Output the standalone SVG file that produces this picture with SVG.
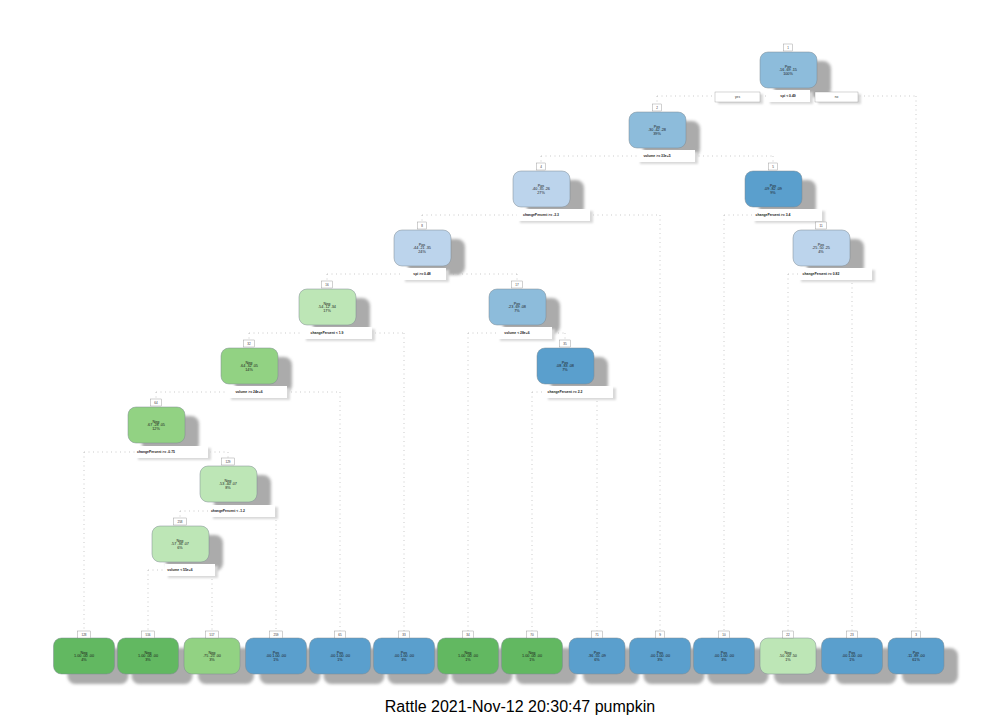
<svg xmlns="http://www.w3.org/2000/svg" width="1000" height="718" viewBox="0 0 1000 718">
<defs>
<filter id="sh" x="-30%" y="-30%" width="160%" height="160%"><feGaussianBlur stdDeviation="1.8"/></filter>
<filter id="sh2" x="-30%" y="-50%" width="160%" height="200%"><feGaussianBlur stdDeviation="1.2"/></filter>
<style>
.bg{fill:#ffffff}
.con{fill:none;stroke:#b4b4b4;stroke-width:0.7;stroke-dasharray:1 3.5}
.shd{fill:#ababab;filter:url(#sh)}
.lshd{fill:#d8d8d8;filter:url(#sh2)}
.box{stroke:#7f8a93;stroke-width:0.5}
.lab{fill:#ffffff}
.nb{fill:#ffffff;stroke:#8c8c8c;stroke-width:0.4}
.nt{font-family:"Liberation Sans",Arial,sans-serif;font-size:3.8px;text-anchor:middle;fill:#1a1a1a}
.ct{font-family:"Liberation Sans",Arial,sans-serif;font-size:3.4px;font-weight:bold;text-anchor:middle;fill:#1a1a1a}
.num{font-family:"Liberation Sans",Arial,sans-serif;font-size:3px;text-anchor:middle;fill:#333}
.yn{font-family:"Liberation Sans",Arial,sans-serif;font-size:3.2px;text-anchor:middle;fill:#333}
.title{font-family:"Liberation Sans",Arial,sans-serif;font-size:16px;text-anchor:middle;fill:#000}
.b1{fill:#8dbcdb}.b2{fill:#bcd4ec}.b3{fill:#5a9fcd}
.g1{fill:#bde6b6}.g2{fill:#92d283}.g3{fill:#62b861}
</style>
</defs>
<rect class="bg" x="0" y="0" width="1000" height="718"/>

<g id="connectors">
<path class="con" d="M657,96H916M657,96V105M916,96V631"/>
<path class="con" d="M541,156H773M541,156V164M773,156V164"/>
<path class="con" d="M422,215H660M422,215V223M660,215V631"/>
<path class="con" d="M724,215H821M724,215V631M821,215V223"/>
<path class="con" d="M327,274H517M327,274V282M517,274V282"/>
<path class="con" d="M788,274H852M788,274V631M852,274V631"/>
<path class="con" d="M249,333H404M249,333V341M404,333V631"/>
<path class="con" d="M468,333H565M468,333V631M565,333V341"/>
<path class="con" d="M156,392H340M156,392V400M340,392V631"/>
<path class="con" d="M532,392H597M532,392V631M597,392V631"/>
<path class="con" d="M84,452H228M84,452V631M228,452V459"/>
<path class="con" d="M180,511H276M180,511V519M276,511V631"/>
<path class="con" d="M148,570H212M148,570V631M212,570V631"/>
</g>

<!-- internal nodes -->
<g id="node1">
<rect class="shd" x="774" y="61" width="57" height="36" rx="8"/>
<rect class="box b1" x="760" y="52" width="57" height="36" rx="8"/>
<text class="nt" x="788" y="67.5">Pos</text><text class="nt" x="788" y="71.3">.16 .69 .15</text><text class="nt" x="788" y="75.1">100%</text>
<rect class="nb" x="783.5" y="44" width="9" height="7"/><text class="num" x="788" y="49">1</text>
<rect class="lshd" x="770" y="92" width="43" height="12"/>
<rect class="lab" x="767" y="90" width="43" height="12"/><text class="ct" x="788" y="97.2">spi &lt; 0.49</text>
<rect class="lshd" x="718" y="94" width="45" height="10"/>
<rect class="lab" x="715" y="92" width="45" height="10" stroke="#9a9a9a" stroke-width="0.4"/><text class="yn" x="737.5" y="98.2">yes</text>
<rect class="lshd" x="818" y="94" width="43" height="10"/>
<rect class="lab" x="815" y="92" width="43" height="10" stroke="#9a9a9a" stroke-width="0.4"/><text class="yn" x="836.5" y="98.2">no</text>
</g>

<g id="node2">
<rect class="shd" x="643" y="121" width="57" height="36" rx="8"/>
<rect class="box b1" x="629" y="112" width="57" height="36" rx="8"/>
<text class="nt" x="657" y="127.5">Pos</text><text class="nt" x="657" y="131.3">.30 .42 .28</text><text class="nt" x="657" y="135.1">39%</text>
<rect class="nb" x="652.5" y="104" width="9" height="7"/><text class="num" x="657" y="109">2</text>
<rect class="lshd" x="640" y="152" width="58" height="12"/>
<rect class="lab" x="637" y="150" width="58" height="12"/><text class="ct" x="657" y="157.2">volume &gt;= 33e+5</text>
</g>

<g id="node4">
<rect class="shd" x="527" y="180" width="57" height="36" rx="8"/>
<rect class="box b2" x="513" y="171" width="57" height="36" rx="8"/>
<text class="nt" x="541" y="186.5">Pos</text><text class="nt" x="541" y="190.3">.40 .35 .26</text><text class="nt" x="541" y="194.1">27%</text>
<rect class="nb" x="536.5" y="163" width="9" height="7"/><text class="num" x="541" y="168">4</text>
<rect class="lshd" x="520" y="211" width="73" height="12"/>
<rect class="lab" x="517" y="209" width="73" height="12"/><text class="ct" x="541" y="216.2">changePercent &gt;= -3.3</text>
</g>

<g id="node5">
<rect class="shd" x="759" y="180" width="57" height="36" rx="8"/>
<rect class="box b3" x="745" y="171" width="57" height="36" rx="8"/>
<text class="nt" x="773" y="186.5">Pos</text><text class="nt" x="773" y="190.3">.09 .82 .09</text><text class="nt" x="773" y="194.1">9%</text>
<rect class="nb" x="768.5" y="163" width="9" height="7"/><text class="num" x="773" y="168">5</text>
<rect class="lshd" x="755" y="211" width="70" height="12"/>
<rect class="lab" x="752" y="209" width="70" height="12"/><text class="ct" x="773" y="216.2">changePercent &gt;= 3.4</text>
</g>

<g id="node8">
<rect class="shd" x="408" y="239" width="57" height="36" rx="8"/>
<rect class="box b2" x="394" y="230" width="57" height="36" rx="8"/>
<text class="nt" x="422" y="245.5">Pos</text><text class="nt" x="422" y="249.3">.44 .21 .35</text><text class="nt" x="422" y="253.1">24%</text>
<rect class="nb" x="417.5" y="222" width="9" height="7"/><text class="num" x="422" y="227">8</text>
<rect class="lshd" x="405" y="270" width="44" height="12"/>
<rect class="lab" x="402" y="268" width="44" height="12"/><text class="ct" x="422" y="275.2">spi &gt;= 0.48</text>
</g>

<g id="node11">
<rect class="shd" x="807" y="239" width="57" height="36" rx="8"/>
<rect class="box b2" x="793" y="230" width="57" height="36" rx="8"/>
<text class="nt" x="821" y="245.5">Pos</text><text class="nt" x="821" y="249.3">.25 .50 .25</text><text class="nt" x="821" y="253.1">4%</text>
<rect class="nb" x="815.5" y="222" width="11" height="7"/><text class="num" x="821" y="227">11</text>
<rect class="lshd" x="801" y="270" width="74" height="12"/>
<rect class="lab" x="798" y="268" width="74" height="12"/><text class="ct" x="821" y="275.2">changePercent &gt;= 0.82</text>
</g>

<g id="node16">
<rect class="shd" x="313" y="298" width="57" height="36" rx="8"/>
<rect class="box g1" x="299" y="289" width="57" height="36" rx="8"/>
<text class="nt" x="327" y="304.5">Neg</text><text class="nt" x="327" y="308.3">.54 .12 .34</text><text class="nt" x="327" y="312.1">17%</text>
<rect class="nb" x="321.5" y="281" width="11" height="7"/><text class="num" x="327" y="286">16</text>
<rect class="lshd" x="306" y="329" width="69" height="12"/>
<rect class="lab" x="303" y="327" width="69" height="12"/><text class="ct" x="327" y="334.2">changePercent &lt; 1.9</text>
</g>

<g id="node17">
<rect class="shd" x="503" y="298" width="57" height="36" rx="8"/>
<rect class="box b1" x="489" y="289" width="57" height="36" rx="8"/>
<text class="nt" x="517" y="304.5">Pos</text><text class="nt" x="517" y="308.3">.23 .69 .08</text><text class="nt" x="517" y="312.1">7%</text>
<rect class="nb" x="511.5" y="281" width="11" height="7"/><text class="num" x="517" y="286">17</text>
<rect class="lshd" x="500" y="329" width="55" height="12"/>
<rect class="lab" x="497" y="327" width="55" height="12"/><text class="ct" x="517" y="334.2">volume &lt; 28e+6</text>
</g>

<g id="node32">
<rect class="shd" x="235" y="357" width="57" height="36" rx="8"/>
<rect class="box g2" x="221" y="348" width="57" height="36" rx="8"/>
<text class="nt" x="249" y="363.5">Neg</text><text class="nt" x="249" y="367.3">.64 .32 .05</text><text class="nt" x="249" y="371.1">14%</text>
<rect class="nb" x="243.5" y="340" width="11" height="7"/><text class="num" x="249" y="345">32</text>
<rect class="lshd" x="231" y="388" width="59" height="12"/>
<rect class="lab" x="228" y="386" width="59" height="12"/><text class="ct" x="249" y="393.2">volume &gt;= 24e+6</text>
</g>

<g id="node35">
<rect class="shd" x="551" y="357" width="57" height="36" rx="8"/>
<rect class="box b3" x="537" y="348" width="57" height="36" rx="8"/>
<text class="nt" x="565" y="363.5">Pos</text><text class="nt" x="565" y="367.3">.08 .83 .08</text><text class="nt" x="565" y="371.1">7%</text>
<rect class="nb" x="559.5" y="340" width="11" height="7"/><text class="num" x="565" y="345">35</text>
<rect class="lshd" x="548" y="388" width="68" height="12"/>
<rect class="lab" x="545" y="386" width="68" height="12"/><text class="ct" x="565" y="393.2">changePercent &gt;= 2.2</text>
</g>

<g id="node64">
<rect class="shd" x="142" y="416" width="57" height="36" rx="8"/>
<rect class="box g2" x="128" y="407" width="57" height="36" rx="8"/>
<text class="nt" x="156" y="422.5">Neg</text><text class="nt" x="156" y="426.3">.67 .28 .05</text><text class="nt" x="156" y="430.1">12%</text>
<rect class="nb" x="150.5" y="399" width="11" height="7"/><text class="num" x="156" y="404">64</text>
<rect class="lshd" x="138" y="448" width="73" height="12"/>
<rect class="lab" x="135" y="446" width="73" height="12"/><text class="ct" x="156" y="453.2">changePercent &gt;= -0.75</text>
</g>

<g id="node129">
<rect class="shd" x="214" y="475" width="57" height="36" rx="8"/>
<rect class="box g1" x="200" y="466" width="57" height="36" rx="8"/>
<text class="nt" x="228" y="481.5">Neg</text><text class="nt" x="228" y="485.3">.53 .40 .07</text><text class="nt" x="228" y="489.1">8%</text>
<rect class="nb" x="221.5" y="458" width="13" height="7"/><text class="num" x="228" y="463">129</text>
<rect class="lshd" x="213" y="507" width="65" height="12"/>
<rect class="lab" x="210" y="505" width="65" height="12"/><text class="ct" x="228" y="512.2">changePercent &lt; -1.2</text>
</g>

<g id="node258">
<rect class="shd" x="166" y="535" width="57" height="36" rx="8"/>
<rect class="box g1" x="152" y="526" width="57" height="36" rx="8"/>
<text class="nt" x="180" y="541.5">Neg</text><text class="nt" x="180" y="545.3">.57 .36 .07</text><text class="nt" x="180" y="549.1">6%</text>
<rect class="nb" x="173.5" y="518" width="13" height="7"/><text class="num" x="180" y="523">258</text>
<rect class="lshd" x="168" y="566" width="50" height="12"/>
<rect class="lab" x="165" y="564" width="50" height="12"/><text class="ct" x="180" y="571.2">volume &lt; 55e+6</text>
</g>

<!-- leaves -->
<g id="leaf128">
<rect class="shd" x="67.5" y="648" width="61" height="36" rx="8"/>
<rect class="box g3" x="53.5" y="638" width="61" height="36" rx="8"/>
<text class="nt" x="84" y="653.5">Neg</text><text class="nt" x="84" y="657.3">1.00 .00 .00</text><text class="nt" x="84" y="661.1">4%</text>
<rect class="nb" x="77.5" y="631" width="13" height="7"/><text class="num" x="84" y="636">128</text>
</g>
<g id="leaf516">
<rect class="shd" x="131.5" y="648" width="61" height="36" rx="8"/>
<rect class="box g3" x="117.5" y="638" width="61" height="36" rx="8"/>
<text class="nt" x="148" y="653.5">Neg</text><text class="nt" x="148" y="657.3">1.00 .00 .00</text><text class="nt" x="148" y="661.1">3%</text>
<rect class="nb" x="141.5" y="631" width="13" height="7"/><text class="num" x="148" y="636">516</text>
</g>
<g id="leaf517">
<rect class="shd" x="198" y="648" width="56" height="36" rx="8"/>
<rect class="box g2" x="184" y="638" width="56" height="36" rx="8"/>
<text class="nt" x="212" y="653.5">Neg</text><text class="nt" x="212" y="657.3">.75 .25 .00</text><text class="nt" x="212" y="661.1">3%</text>
<rect class="nb" x="205.5" y="631" width="13" height="7"/><text class="num" x="212" y="636">517</text>
</g>
<g id="leaf259">
<rect class="shd" x="259.5" y="648" width="61" height="36" rx="8"/>
<rect class="box b3" x="245.5" y="638" width="61" height="36" rx="8"/>
<text class="nt" x="276" y="653.5">Pos</text><text class="nt" x="276" y="657.3">.00 1.00 .00</text><text class="nt" x="276" y="661.1">1%</text>
<rect class="nb" x="269.5" y="631" width="13" height="7"/><text class="num" x="276" y="636">259</text>
</g>
<g id="leaf65">
<rect class="shd" x="323.5" y="648" width="61" height="36" rx="8"/>
<rect class="box b3" x="309.5" y="638" width="61" height="36" rx="8"/>
<text class="nt" x="340" y="653.5">Pos</text><text class="nt" x="340" y="657.3">.00 1.00 .00</text><text class="nt" x="340" y="661.1">1%</text>
<rect class="nb" x="334.5" y="631" width="11" height="7"/><text class="num" x="340" y="636">65</text>
</g>
<g id="leaf33">
<rect class="shd" x="387.5" y="648" width="61" height="36" rx="8"/>
<rect class="box b3" x="373.5" y="638" width="61" height="36" rx="8"/>
<text class="nt" x="404" y="653.5">Pos</text><text class="nt" x="404" y="657.3">.00 1.00 .00</text><text class="nt" x="404" y="661.1">3%</text>
<rect class="nb" x="398.5" y="631" width="11" height="7"/><text class="num" x="404" y="636">33</text>
</g>
<g id="leaf34">
<rect class="shd" x="451.5" y="648" width="61" height="36" rx="8"/>
<rect class="box g3" x="437.5" y="638" width="61" height="36" rx="8"/>
<text class="nt" x="468" y="653.5">Neg</text><text class="nt" x="468" y="657.3">1.00 .00 .00</text><text class="nt" x="468" y="661.1">1%</text>
<rect class="nb" x="462.5" y="631" width="11" height="7"/><text class="num" x="468" y="636">34</text>
</g>
<g id="leaf70">
<rect class="shd" x="515.5" y="648" width="61" height="36" rx="8"/>
<rect class="box g3" x="501.5" y="638" width="61" height="36" rx="8"/>
<text class="nt" x="532" y="653.5">Neg</text><text class="nt" x="532" y="657.3">1.00 .00 .00</text><text class="nt" x="532" y="661.1">1%</text>
<rect class="nb" x="526.5" y="631" width="11" height="7"/><text class="num" x="532" y="636">70</text>
</g>
<g id="leaf71">
<rect class="shd" x="583" y="648" width="56" height="36" rx="8"/>
<rect class="box b3" x="569" y="638" width="56" height="36" rx="8"/>
<text class="nt" x="597" y="653.5">Pos</text><text class="nt" x="597" y="657.3">.36 .55 .09</text><text class="nt" x="597" y="661.1">6%</text>
<rect class="nb" x="591.5" y="631" width="11" height="7"/><text class="num" x="597" y="636">71</text>
</g>
<g id="leaf9">
<rect class="shd" x="643.5" y="648" width="61" height="36" rx="8"/>
<rect class="box b3" x="629.5" y="638" width="61" height="36" rx="8"/>
<text class="nt" x="660" y="653.5">Pos</text><text class="nt" x="660" y="657.3">.00 1.00 .00</text><text class="nt" x="660" y="661.1">3%</text>
<rect class="nb" x="655.5" y="631" width="9" height="7"/><text class="num" x="660" y="636">9</text>
</g>
<g id="leaf10">
<rect class="shd" x="707.5" y="648" width="61" height="36" rx="8"/>
<rect class="box b3" x="693.5" y="638" width="61" height="36" rx="8"/>
<text class="nt" x="724" y="653.5">Pos</text><text class="nt" x="724" y="657.3">.00 1.00 .00</text><text class="nt" x="724" y="661.1">3%</text>
<rect class="nb" x="718.5" y="631" width="11" height="7"/><text class="num" x="724" y="636">10</text>
</g>
<g id="leaf22">
<rect class="shd" x="774" y="648" width="56" height="36" rx="8"/>
<rect class="box g1" x="760" y="638" width="56" height="36" rx="8"/>
<text class="nt" x="788" y="653.5">Neg</text><text class="nt" x="788" y="657.3">.50 .00 .50</text><text class="nt" x="788" y="661.1">1%</text>
<rect class="nb" x="782.5" y="631" width="11" height="7"/><text class="num" x="788" y="636">22</text>
</g>
<g id="leaf23">
<rect class="shd" x="835.5" y="648" width="61" height="36" rx="8"/>
<rect class="box b3" x="821.5" y="638" width="61" height="36" rx="8"/>
<text class="nt" x="852" y="653.5">Pos</text><text class="nt" x="852" y="657.3">.00 1.00 .00</text><text class="nt" x="852" y="661.1">1%</text>
<rect class="nb" x="846.5" y="631" width="11" height="7"/><text class="num" x="852" y="636">23</text>
</g>
<g id="leaf3">
<rect class="shd" x="902" y="648" width="56" height="36" rx="8"/>
<rect class="box b3" x="888" y="638" width="56" height="36" rx="8"/>
<text class="nt" x="916" y="653.5">Pos</text><text class="nt" x="916" y="657.3">.11 .89 .00</text><text class="nt" x="916" y="661.1">61%</text>
<rect class="nb" x="911.5" y="631" width="9" height="7"/><text class="num" x="916" y="636">3</text>
</g>

<text class="title" x="520" y="712">Rattle 2021-Nov-12 20:30:47 pumpkin</text>
</svg>
